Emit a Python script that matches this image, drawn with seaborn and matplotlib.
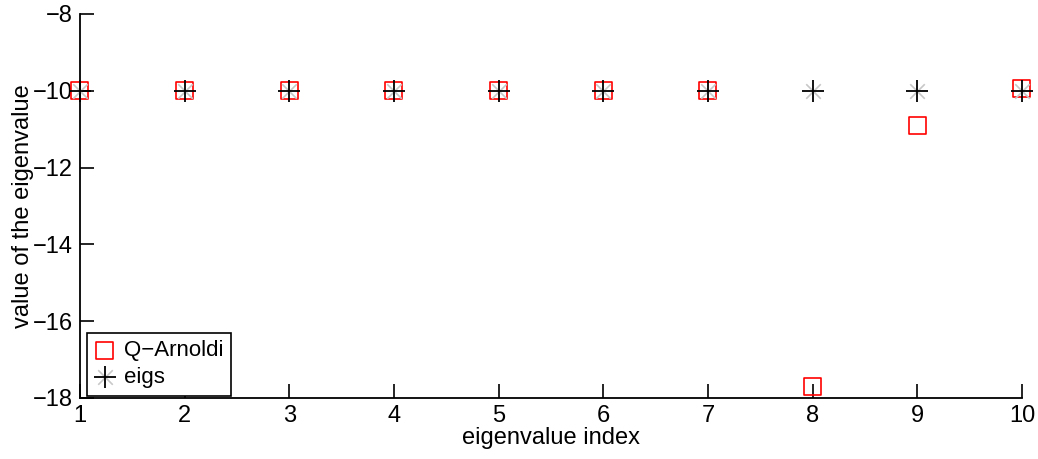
import numpy as np
import pandas as pd
import matplotlib
matplotlib.use("Agg")
import matplotlib.pyplot as plt
import seaborn as sns

# ── Data ──────────────────────────────────────────────────────────────────────
index = [1, 2, 3, 4, 5, 6, 7, 8, 9, 10]
q_arnoldi = [-10.0, -10.0, -10.0, -10.0, -10.0, -10.0, -10.0, -17.7, -10.9, -9.95]
eigs = [-10.0, -10.0, -10.0, -10.0, -10.0, -10.0, -10.0, -10.0, -10.0, -10.0]
y_ticks = [-18, -16, -14, -12, -10, -8]
x_ticks = index

df = pd.DataFrame({"index": index, "Q-Arnoldi": q_arnoldi, "eigs": eigs})

# ── Style ─────────────────────────────────────────────────────────────────────
sns.set_theme(style="ticks")
plt.rcParams["font.family"] = ["Liberation Sans", "DejaVu Sans"]
plt.rcParams["font.size"] = 17
plt.rcParams["text.color"] = "black"
plt.rcParams["axes.labelcolor"] = "black"

fig = plt.figure(figsize=(10.38, 4.59), dpi=100)
ax = fig.add_axes([0.077, 0.133, 0.9075, 0.8365])

sns.scatterplot(data=df, x="index", y="Q-Arnoldi", marker="s", s=150,
                facecolor="none", edgecolor="red", linewidth=1.2,
                ax=ax, clip_on=False, zorder=3)
sq_handle = ax.collections[-1]
sns.scatterplot(data=df, x="index", y="eigs", marker="x", s=110,
                color="#c8c8c8", linewidth=1.2, ax=ax, clip_on=False, zorder=4)
xg_handle = ax.collections[-1]
sns.scatterplot(data=df, x="index", y="eigs", marker="+", s=250,
                color="black", linewidth=1.3, ax=ax, clip_on=False, zorder=5)
pl_handle = ax.collections[-1]

ax.set_xlim(1, 10)
ax.set_ylim(-18, -8)
ax.set_xticks(x_ticks)
ax.set_yticks(y_ticks)
ax.set_yticklabels([f"\u2212{abs(v)}" for v in y_ticks])
ax.tick_params(direction="in", length=10, width=1.2, labelsize=17,
               colors="black", pad=5)
for s in ["top", "right"]:
    ax.spines[s].set_visible(False)
for s in ["left", "bottom"]:
    ax.spines[s].set_linewidth(1.3)
    ax.spines[s].set_color("black")

ax.set_xlabel("eigenvalue index", fontsize=17, labelpad=0, color="black")
ax.set_ylabel("value of the eigenvalue", fontsize=17, labelpad=-1, color="black")

leg = ax.legend([sq_handle, (xg_handle, pl_handle)], ["Q\u2212Arnoldi", "eigs"],
                loc="lower left", bbox_to_anchor=(0.005, 0.0), fontsize=16,
                fancybox=False, edgecolor="black", framealpha=1,
                handlelength=0.9, handletextpad=0.4, borderpad=0.35,
                labelspacing=0.25, borderaxespad=0.1)
leg.get_frame().set_linewidth(1.2)
for t in leg.get_texts():
    t.set_color("black")

fig.savefig("out.png", dpi=100)
